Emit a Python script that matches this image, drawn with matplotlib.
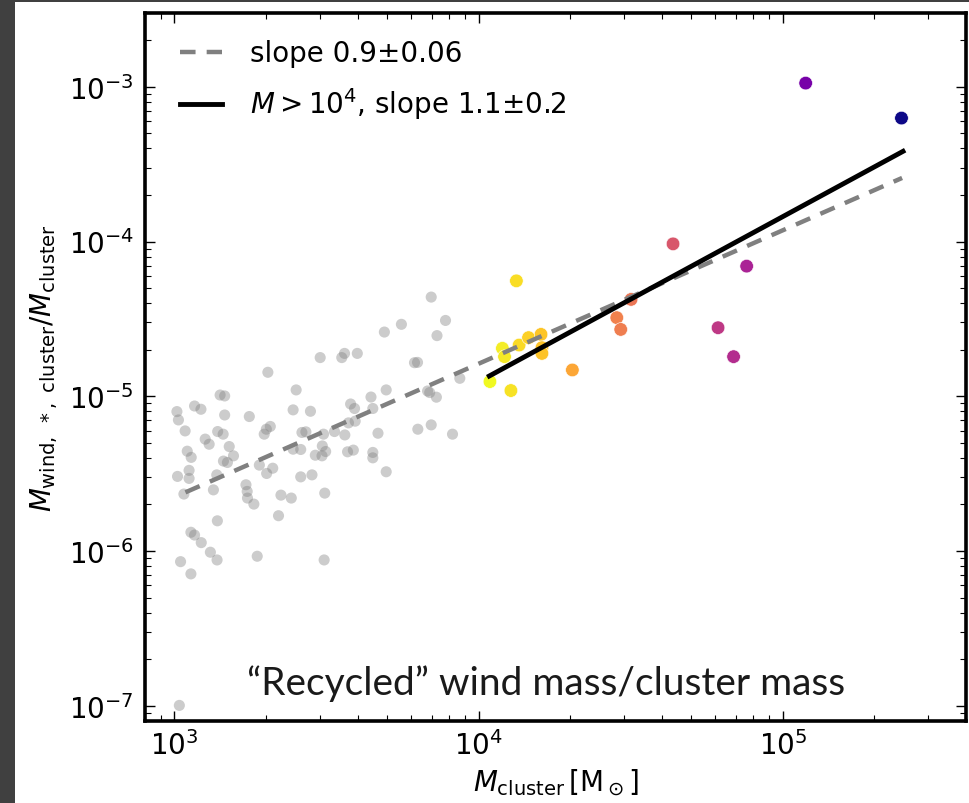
import numpy as np
import matplotlib
matplotlib.use("Agg")
import matplotlib.pyplot as plt
from matplotlib.colors import LogNorm
from matplotlib.patches import Rectangle

# all clusters (grey), log10 of cluster mass and of recycled wind fraction
gray_logm = [3.008, 3.013, 3.035, 3.066, 3.087, 3.150, 3.165, 3.165, 3.101, 3.114,
             3.142, 3.160, 3.180, 3.042, 3.055, 3.161, 3.174, 3.194, 3.010, 3.048,
             3.048, 3.139, 3.031, 3.128, 3.141, 3.054, 3.066, 3.088, 3.118, 3.140,
             3.020, 3.054, 3.307, 3.246, 3.295, 3.315, 3.302, 3.279, 3.303, 3.323,
             3.235, 3.239, 3.240, 3.261, 3.350, 3.384, 3.342, 3.272, 3.400, 3.390,
             3.447, 3.419, 3.432, 3.390, 3.415, 3.415, 3.452, 3.479, 3.550, 3.559,
             3.601, 3.490, 3.526, 3.560, 3.486, 3.463, 3.485, 3.497, 3.494, 3.492,
             3.579, 3.592, 3.572, 3.594, 3.569, 3.588, 3.646, 3.652, 3.669, 3.652,
             3.652, 3.696, 3.696, 3.690, 3.746, 3.789, 3.799, 3.844, 3.891, 3.863,
             3.832, 3.839, 3.861, 3.800, 3.844, 3.914, 3.938, 3.016]
gray_logf = [-5.099, -5.153, -5.224, -5.063, -5.084, -4.992, -4.998, -5.121, -5.277, -5.310,
             -5.228, -5.245, -5.325, -5.355, -5.395, -5.419, -5.428, -5.385, -5.518, -5.479,
             -5.531, -5.508, -5.632, -5.605, -5.805, -5.879, -5.897, -5.946, -6.008, -6.058,
             -6.069, -6.148, -4.845, -5.131, -5.245, -5.195, -5.213, -5.445, -5.499, -5.465,
             -5.572, -5.615, -5.658, -5.697, -5.639, -5.658, -5.772, -6.034, -4.959, -5.088,
             -5.097, -5.234, -5.230, -5.342, -5.344, -5.521, -5.508, -4.750, -4.750, -4.723,
             -4.723, -5.245, -5.228, -5.250, -5.321, -5.381, -5.385, -5.357, -5.626, -6.058,
             -5.050, -5.079, -5.172, -5.161, -5.359, -5.348, -5.005, -5.079, -5.239, -5.363,
             -5.398, -5.488, -4.959, -4.585, -4.535, -4.783, -4.781, -4.359, -4.510, -4.608,
             -4.966, -4.976, -5.006, -5.213, -5.185, -5.245, -4.884, -6.998]

# massive clusters (M > 1e4), coloured by mass
big_logm = [4.037, 4.106, 4.124, 4.078, 4.085, 4.133, 4.164, 4.205, 4.208, 4.208,
            4.308, 4.454, 4.467, 4.501, 4.639, 4.881, 4.787, 4.838, 5.075, 5.390]
big_logf = [-4.905, -4.963, -4.254, -4.690, -4.744, -4.669, -4.621, -4.600, -4.686, -4.723,
            -4.830, -4.492, -4.568, -4.374, -4.015, -4.159, -4.557, -4.744, -2.976, -3.202]

# power-law fits (end points, log10)
fit_all_logm = [3.036, 5.392]
fit_all_logf = [-5.621, -3.589]
fit_big_logm = [4.035, 5.395]
fit_big_logf = [-4.869, -3.417]

labels = ["slope 0.9\u00b10.06", "$M > 10^4$, slope 1.1\u00b10.2"]

gm, gf = 10**np.array(gray_logm), 10**np.array(gray_logf)
bm, bf = 10**np.array(big_logm), 10**np.array(big_logf)

fig = plt.figure(figsize=(9.7, 8.04), dpi=100)
fig.patch.set_facecolor("#404040")
fig.patches.append(Rectangle((15/970, 0), 1, 1 - 3/804, transform=fig.transFigure,
                             facecolor="white", edgecolor="none", zorder=-10))
ax = fig.add_axes([145/970, 1 - 721.7/804, 821/970, (721.7 - 14)/804])

ax.scatter(gm, gf, s=64, color="gray", alpha=0.4, edgecolors="none", zorder=2)
ax.scatter(bm, bf, s=95, c=bm, cmap="plasma_r", norm=LogNorm(bm.min(), bm.max()),
           edgecolors="white", linewidths=0.4, zorder=3)

ax.plot(10**np.array(fit_all_logm), 10**np.array(fit_all_logf), color="gray",
        lw=3.2, ls=(0, (3.5, 2.5)), label=labels[0], zorder=4)
ax.plot(10**np.array(fit_big_logm), 10**np.array(fit_big_logf), color="black",
        lw=3.5, label=labels[1], zorder=5)

ax.set_xscale("log")
ax.set_yscale("log")
ax.set_xlim(800, 4e5)
ax.set_ylim(8e-8, 3e-3)

for sp in ax.spines.values():
    sp.set_linewidth(2.6)
ax.tick_params(which="both", direction="in", top=True, right=True, labelsize=20)
ax.tick_params(which="major", length=7, width=1)
ax.tick_params(which="minor", length=4, width=0.8)
ax.tick_params(axis="x", pad=7)
ax.tick_params(axis="y", pad=8)

ax.set_xlabel(r"$M_{\rm cluster}\,[\rm M_\odot]$", fontsize=20, labelpad=4)
ax.set_ylabel(r"$M_{\rm wind,\ *,\ cluster}/M_{\rm cluster}$", fontsize=20, labelpad=6)

ax.legend(loc="upper left", bbox_to_anchor=(0.011, 1.0), frameon=False, fontsize=20,
          handlelength=1.5, handletextpad=1.0, borderaxespad=0.55, labelspacing=0.65)

ax.text(0.488, 0.038, "\u201cRecycled\u201d wind mass/cluster mass", transform=ax.transAxes,
        ha="center", va="baseline", fontsize=28, family="Lato", color="#1a1a1a")

fig.savefig("out.png", dpi=100, facecolor=fig.get_facecolor())
